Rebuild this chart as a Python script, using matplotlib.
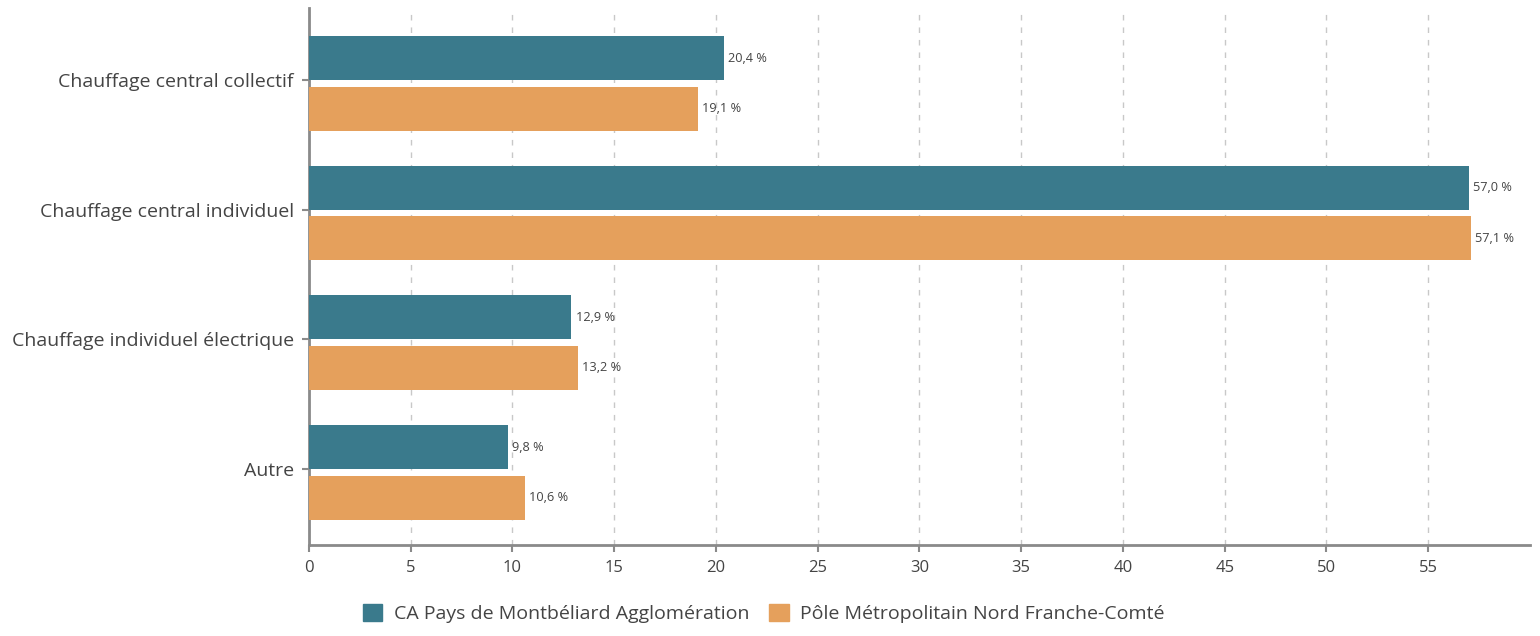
import matplotlib.pyplot as plt
from matplotlib.patches import Patch
import numpy as np

categories = ["Chauffage central collectif", "Chauffage central individuel",
              "Chauffage individuel électrique", "Autre"]
ca_values = [20.4, 57.0, 12.9, 9.8]
pole_values = [19.1, 57.1, 13.2, 10.6]
series_names = ["CA Pays de Montbéliard Agglomération",
                "Pôle Métropolitain Nord Franche-Comté"]
x_ticks = list(range(0, 60, 5))

teal = "#3a7a8c"
orange = "#e5a05c"
axis_grey = "#8a8a8a"
text_col = "#444444"

plt.rcParams['font.family'] = ['Open Sans', 'DejaVu Sans']

fig = plt.figure(figsize=(15.4, 6.36), dpi=100)
ax = fig.add_axes([0.2006, 0.143, 0.7929, 0.844])

y = np.arange(len(categories))
bh = 0.34
ax.barh(y - 0.17, ca_values, height=bh, color=teal, zorder=3)
ax.barh(y + 0.22, pole_values, height=bh, color=orange, zorder=3)

for yi, v in zip(y, ca_values):
    ax.text(v + 0.2, yi - 0.17, f"{v:.1f} %".replace(".", ","), va="center",
            ha="left", fontsize=9.2, color=text_col)
for yi, v in zip(y, pole_values):
    ax.text(v + 0.2, yi + 0.22, f"{v:.1f} %".replace(".", ","), va="center",
            ha="left", fontsize=9.2, color=text_col)

ax.set_xlim(0, 60)
ax.set_ylim(3.586, -0.555)
ax.set_xticks(x_ticks)
ax.set_yticks(y)
ax.set_yticklabels(categories, fontsize=14, color=text_col)
ax.tick_params(axis="x", labelsize=12, colors=text_col, length=5, width=1.5,
               color=axis_grey, pad=6)
ax.tick_params(axis="y", length=5, width=1.5, color=axis_grey, pad=6)
for lbl in ax.get_xticklabels():
    lbl.set_color(text_col)

ax.grid(axis="x", linestyle=(0, (4, 5)), color="#c8c8c8", linewidth=1, zorder=0)
for s in ["top", "right"]:
    ax.spines[s].set_visible(False)
for s in ["left", "bottom"]:
    ax.spines[s].set_color(axis_grey)
    ax.spines[s].set_linewidth(2)

handles = [Patch(color=teal), Patch(color=orange)]
fig.legend(handles, series_names, loc="center", bbox_to_anchor=(0.496, 0.035),
           ncol=2, frameon=False, fontsize=14, handlelength=1.0,
           handleheight=1.0, columnspacing=1.0, handletextpad=0.6,
           labelcolor=text_col)

fig.savefig("out.png", dpi=100)
